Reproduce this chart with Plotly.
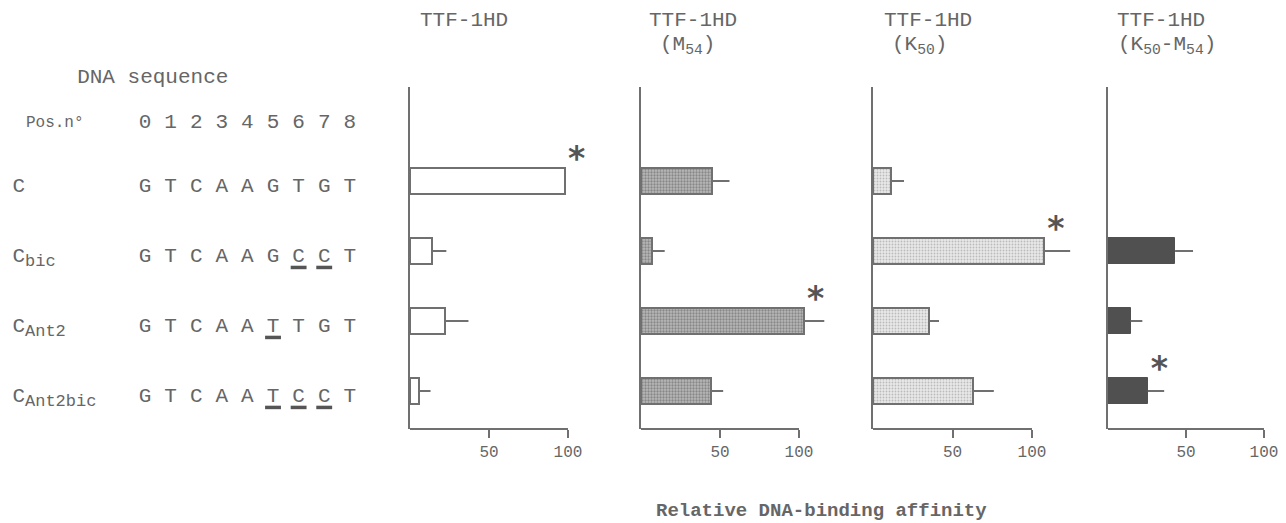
import plotly.graph_objects as go

W, H = 1286, 523

# ---------------- data ----------------
row_labels = ["C", "C<sub>bic</sub>", "C<sub>Ant2</sub>", "C<sub>Ant2bic</sub>"]
sequences = ["GTCAAGTGT", "GTCAAGCCT", "GTCAATTGT", "GTCAATCCT"]
positions = ["0", "1", "2", "3", "4", "5", "6", "7", "8"]

panel_title_1 = ["TTF-1HD", "TTF-1HD", "TTF-1HD", "TTF-1HD"]
panel_title_2 = ["", "(M<sub>54</sub>)", "(K<sub>50</sub>)", "(K<sub>50</sub>-M<sub>54</sub>)"]

ttf1hd = [98, 14, 22, 6]
ttf1hd_sd = [0, 9, 15, 7]
m54 = [45, 7, 103, 44]
m54_sd = [11, 8, 13, 8]
k50 = [11.5, 107.5, 35, 63]
k50_sd = [8, 16.5, 6.5, 13]
k50m54 = [0, 43, 14.5, 25.5]
k50m54_sd = [0, 11.5, 7.5, 10.5]

significant_row = [0, 2, 1, 3]   # row carrying the asterisk in each panel
x_ticks = [50, 100]
x_title = "Relative DNA-binding affinity"

# ---------------- style ----------------
FONT = "Liberation Mono, Courier New, monospace"
TXT = "#666666"
LINE = "#707070"

def fx(p):
    return p / W

def fy(p):
    return 1 - p / H

# pixel geometry of panels: pixel of value 0 and value 100, and visible max
panel_px = [(410, 568), (641, 799), (873, 1032), (1108, 1264)]
panel_xmax = [130, 130, 130, 110]
y_dom = [fy(429), fy(87)]
y_rng = [3.543, -1.343]

values = [ttf1hd, m54, k50, k50m54]
sds = [ttf1hd_sd, m54_sd, k50_sd, k50m54_sd]

markers = [
    dict(color="white", line=dict(color=LINE, width=2)),
    dict(color="#9a9a9a", line=dict(color=LINE, width=2),
         pattern=dict(shape=".", fgcolor="#555555", bgcolor="#b8b8b8", size=3, solidity=0.45)),
    dict(color="#dddddd", line=dict(color=LINE, width=2),
         pattern=dict(shape=".", fgcolor="#8e8e8e", bgcolor="#e8e8e8", size=3, solidity=0.3)),
    dict(color="#505050", line=dict(color="#505050", width=1)),
]

fig = go.Figure()
rows_idx = list(range(len(row_labels)))

for k in range(4):
    ax = "" if k == 0 else str(k + 1)
    fig.add_trace(go.Bar(
        x=values[k], y=rows_idx, orientation="h", width=0.37,
        marker=markers[k], cliponaxis=False,
        error_x=dict(type="data", symmetric=False, array=sds[k],
                     arrayminus=[0] * 4, color=LINE, thickness=2, width=0),
        xaxis="x" + ax, yaxis="y" + ax, showlegend=False,
    ))
    r = significant_row[k]
    fig.add_trace(go.Scatter(
        x=[values[k][r] + 7.5], y=[r - 0.27], mode="text", text=["*"],
        textfont=dict(family="DejaVu Sans", size=33, color="#555555", weight="bold"),
        cliponaxis=False, xaxis="x" + ax, yaxis="y" + ax, showlegend=False,
    ))
    # x-axis baseline ending at the last tick
    fig.add_shape(type="line", xref="x" + ax, yref=("y" + ax) + " domain",
                  x0=0, x1=x_ticks[-1], y0=0, y1=0,
                  line=dict(color=LINE, width=2))

# left panel: sequences
seq_x, seq_y, seq_t = [], [], []
for r, s in enumerate(sequences):
    for i, ch in enumerate(s):
        seq_x.append(i)
        seq_y.append(r + 0.08)
        seq_t.append(ch)
fig.add_trace(go.Scatter(
    x=seq_x, y=seq_y, mode="text", text=seq_t,
    textfont=dict(family=FONT, size=21, color=TXT),
    cliponaxis=False, xaxis="x5", yaxis="y5", showlegend=False,
))
# underlines for mutated bases (positions differing from C)
for r, s in enumerate(sequences):
    for i, ch in enumerate(s):
        if ch != sequences[0][i]:
            fig.add_trace(go.Scatter(
                x=[i - 0.31, i + 0.31], y=[r + 0.235, r + 0.235], mode="lines",
                line=dict(color="#555555", width=3.5),
                xaxis="x5", yaxis="y5", showlegend=False, hoverinfo="skip",
            ))
# position numbers
fig.add_trace(go.Scatter(
    x=list(range(len(positions))), y=[-0.83] * len(positions), mode="text", text=positions,
    textfont=dict(family=FONT, size=21, color=TXT),
    cliponaxis=False, xaxis="x5", yaxis="y5", showlegend=False,
))
# row labels (larger subscripts)
row_text = [lab.replace("<sub>", "<sub><span style='font-size:17px'>").replace("</sub>", "</span></sub>")
            for lab in row_labels]
fig.add_trace(go.Scatter(
    x=[-5.18] * 4, y=[r + 0.08 for r in rows_idx], mode="text", text=row_text,
    textposition="middle right",
    textfont=dict(family=FONT, size=21, color=TXT),
    cliponaxis=False, xaxis="x5", yaxis="y5", showlegend=False,
))
# headers
fig.add_trace(go.Scatter(
    x=[-2.65], y=[-1.47], mode="text", text=["DNA sequence"], textposition="middle right",
    textfont=dict(family=FONT, size=21, color=TXT),
    cliponaxis=False, xaxis="x5", yaxis="y5", showlegend=False,
))
fig.add_trace(go.Scatter(
    x=[-4.65], y=[-0.83], mode="text", text=["Pos.n°"], textposition="middle right",
    textfont=dict(family=FONT, size=16, color=TXT),
    cliponaxis=False, xaxis="x5", yaxis="y5", showlegend=False,
))

layout = dict(
    width=W, height=H, margin=dict(l=0, r=0, t=0, b=0),
    paper_bgcolor="white", plot_bgcolor="white",
    showlegend=False, bargap=0,
)
for k in range(4):
    ax = "" if k == 0 else str(k + 1)
    x0, x1 = panel_px[k]
    s = (x1 - x0) / 100.0
    layout["xaxis" + ax] = dict(
        domain=[fx(x0), fx(x0 + s * panel_xmax[k])], range=[0, panel_xmax[k]], anchor="y" + ax,
        showline=False, showgrid=False, zeroline=False,
        ticks="outside", tickvals=x_ticks, ticklen=8, tickwidth=2, tickcolor=LINE,
        tickfont=dict(family=FONT, size=16, color=TXT), fixedrange=True,
    )
    layout["yaxis" + ax] = dict(
        domain=y_dom, range=y_rng, anchor="x" + ax,
        showline=True, linecolor=LINE, linewidth=2, showgrid=False, zeroline=False,
        showticklabels=False, ticks="", fixedrange=True,
    )
layout["xaxis5"] = dict(domain=[0, fx(400)], range=[-5.664, 9.96], anchor="y5", visible=False)
layout["yaxis5"] = dict(domain=[fy(429), fy(60)], range=[3.543, -1.729], anchor="x5", visible=False)
fig.update_layout(**layout)

# titles
title_px = [(418, 418), (647, 658), (882, 890), (1115, 1116)]
for k in range(4):
    fig.add_annotation(x=fx(title_px[k][0]), y=fy(21), xref="paper", yref="paper",
                       text=panel_title_1[k], showarrow=False, xanchor="left", yanchor="middle",
                       font=dict(family=FONT, size=21, color=TXT))
    if panel_title_2[k]:
        fig.add_annotation(x=fx(title_px[k][1]), y=fy(45), xref="paper", yref="paper",
                           text=panel_title_2[k], showarrow=False, xanchor="left", yanchor="middle",
                           font=dict(family=FONT, size=21, color=TXT))
fig.add_annotation(x=fx(821), y=fy(511), xref="paper", yref="paper",
                   text="<b>" + x_title + "</b>", showarrow=False,
                   xanchor="center", yanchor="middle",
                   font=dict(family=FONT, size=19, color=TXT))

fig.write_html("out.html", config={"displayModeBar": False},
               post_script="document.body.style.margin='0';")
